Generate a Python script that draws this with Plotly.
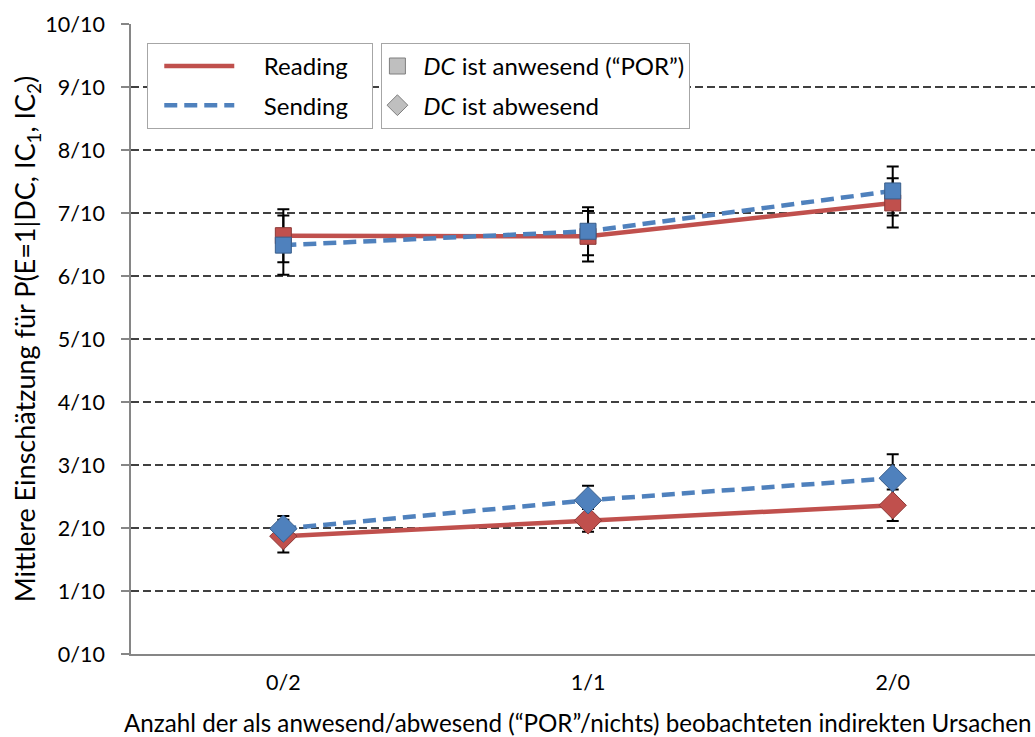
import plotly.graph_objects as go

categories = ["0/2", "1/1", "2/0"]
xpos = [0, 1, 2]

reading_present = [6.64, 6.63, 7.16]
reading_present_err = [0.42, 0.40, 0.39]
sending_present = [6.49, 6.71, 7.35]
sending_present_err = [0.47, 0.38, 0.39]

reading_absent = [1.87, 2.12, 2.36]
reading_absent_err = [0.26, 0.18, 0.25]
sending_absent = [1.99, 2.44, 2.79]
sending_absent_err = [0.20, 0.23, 0.38]

ytick_vals = list(range(0, 11))
ytick_text = [f"{v}/10" for v in ytick_vals]

x_title = "Anzahl der als anwesend/abwesend (“POR”/nichts) beobachteten indirekten Ursachen"
y_title = "Mittlere Einschätzung für P(E=1|DC, IC<sub>1</sub>, IC<sub>2</sub>)"

RED = "#C0504D"
BLUE = "#4F81BD"
RED_EDGE = "#8C3836"
BLUE_EDGE = "#385D8A"
FONT = "Lato"
NB = "\u00a0"

fig = go.Figure()

# error bars first (under everything)
for vals, errs in [(reading_present, reading_present_err), (sending_present, sending_present_err),
                   (reading_absent, reading_absent_err), (sending_absent, sending_absent_err)]:
    fig.add_trace(go.Scatter(
        x=xpos, y=vals, mode="markers", marker=dict(size=1, opacity=0),
        error_y=dict(type="data", array=errs, visible=True, color="black", thickness=2, width=6),
        showlegend=False, hoverinfo="skip"))

# lines + markers
series = [
    (reading_present, RED, RED_EDGE, "solid", "square", 16),
    (reading_absent, RED, RED_EDGE, "solid", "diamond", 21),
    (sending_present, BLUE, BLUE_EDGE, "13px,7px", "square", 16),
    (sending_absent, BLUE, BLUE_EDGE, "13px,7px", "diamond", 21),
]
for vals, col, edge, dash, sym, size in series:
    fig.add_trace(go.Scatter(
        x=xpos, y=vals, mode="lines+markers",
        line=dict(color=col, width=4.5, dash=dash),
        marker=dict(symbol=sym, size=size, color=col, line=dict(color=edge, width=1)),
        showlegend=False))

# legend 1: line styles
fig.add_trace(go.Scatter(x=[None], y=[None], mode="lines", name=NB * 4 + "Reading" + NB * 3,
                         line=dict(color=RED, width=4.5), legend="legend", legendgroup="a"))
fig.add_trace(go.Scatter(x=[None], y=[None], mode="lines", name=NB * 4 + "Sending" + NB * 3,
                         line=dict(color=BLUE, width=4.5, dash="13px,7px"), legend="legend", legendgroup="b"))
# legend 2: marker shapes
fig.add_trace(go.Scatter(x=[None], y=[None], mode="markers", name=NB + "<i>DC</i> ist anwesend (“POR”)",
                         marker=dict(symbol="square", size=16, color="#BFBFBF", line=dict(color="#7F7F7F", width=1)),
                         legend="legend2", legendgroup="c"))
fig.add_trace(go.Scatter(x=[None], y=[None], mode="markers", name=NB + "<i>DC</i> ist abwesend",
                         marker=dict(symbol="diamond", size=20, color="#BFBFBF", line=dict(color="#7F7F7F", width=1)),
                         legend="legend2", legendgroup="d"))

legend_common = dict(
    bgcolor="white", bordercolor="#A6A6A6", borderwidth=1,
    font=dict(family=FONT, size=24, color="black"),
    yanchor="top", xanchor="left", tracegroupgap=5,
)

fig.update_layout(
    width=1035, height=737,
    margin=dict(l=131, r=0, t=24, b=83),
    paper_bgcolor="white", plot_bgcolor="white",
    font=dict(family=FONT, size=21, color="black"),
    legend=dict(x=0.018, y=0.97, itemwidth=70, indentation=11, **legend_common),
    legend2=dict(x=0.277, y=0.97, itemwidth=30, indentation=-5, **legend_common),
    xaxis=dict(
        range=[-0.5, 2.467], tickvals=xpos, ticktext=categories,
        showgrid=False, zeroline=False, showline=True, linecolor="#868686", linewidth=1.5,
        ticks="", ticklabelstandoff=8, tickfont=dict(family=FONT, size=21.5, color="black"),
    ),
    yaxis=dict(
        range=[0, 10], tickvals=ytick_vals, ticktext=ytick_text,
        showgrid=True, gridcolor="#404040", gridwidth=1.5, griddash="8px,4px",
        zeroline=False, showline=True, linecolor="#868686", linewidth=1.5,
        ticks="outside", ticklen=8, tickcolor="#868686", tickwidth=1.5, ticklabelstandoff=12,
        tickfont=dict(family=FONT, size=21.5, color="black"),
        title=dict(text=y_title, font=dict(family=FONT, size=27, color="black"), standoff=2),
    ),
    annotations=[dict(
        text=x_title, xref="paper", yref="paper", x=0.494, y=-0.108,
        xanchor="center", yanchor="middle", showarrow=False,
        font=dict(family=FONT, size=24.2, color="black"))],
)

fig.write_html("out.html")
